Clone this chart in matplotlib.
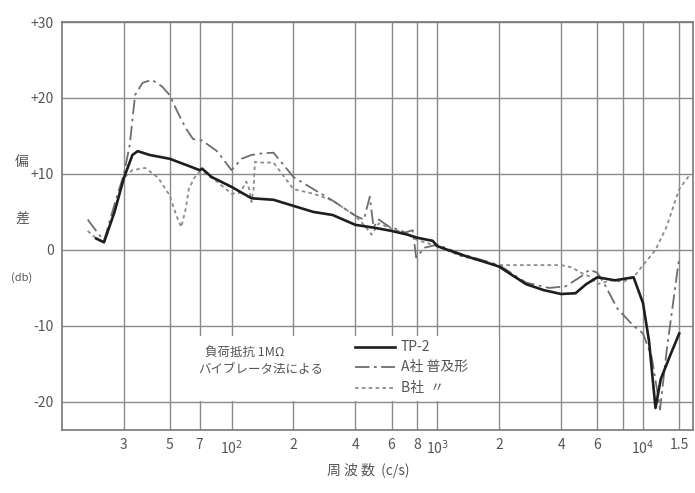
import matplotlib
matplotlib.use("Agg")
import matplotlib.pyplot as plt
from matplotlib.patches import Rectangle
from matplotlib.lines import Line2D

plt.rcParams['font.family'] = ['Noto Sans CJK JP', 'DejaVu Sans']

# TP-2 (solid)
tp2_f = [22, 24, 27, 30, 33, 35, 40, 50, 60, 70, 72, 80, 100, 125, 160, 200, 250,
         310, 400, 500, 600, 720, 800, 950, 1000, 1300, 1900, 2000, 2700, 3300,
         4000, 4700, 5300, 6000, 7300, 9000, 10000, 10700, 11500, 12200, 13500, 15000]
tp2_v = [1.5, 1.0, 5.0, 9.5, 12.5, 13.0, 12.5, 12.0, 11.2, 10.5, 10.7, 9.6, 8.3, 6.8,
         6.6, 5.8, 5.0, 4.6, 3.3, 2.9, 2.5, 2.0, 1.6, 1.2, 0.5, -0.6, -2.0, -2.2, -4.5,
         -5.3, -5.8, -5.7, -4.5, -3.6, -4.0, -3.6, -7.0, -12.0, -20.8, -17.0, -14.0, -11.0]

# A社 普及形 (dash-dot)
a_f = [20, 22, 24, 27, 30, 32, 34, 37, 41, 46, 50, 55, 60, 65, 72, 85, 100, 112, 125,
       140, 160, 200, 250, 310, 400, 440, 470, 490, 520, 580, 700, 760, 790, 870, 1000,
       1300, 2000, 2700, 3500, 4200, 5000, 5500, 6000, 6500, 7500, 9000, 10000, 11000,
       11800, 12100, 13000, 14000, 15000]
a_v = [4.0, 2.5, 1.2, 6.0, 10.0, 13.8, 20.4, 22.0, 22.4, 21.5, 20.4, 18.0, 16.0, 14.6,
       14.4, 13.0, 10.5, 12.0, 12.5, 12.7, 12.8, 9.6, 8.0, 6.5, 4.5, 4.0, 7.0, 3.0, 4.0,
       3.1, 2.3, 2.6, -1.0, 0.3, 0.7, -0.5, -2.0, -4.3, -5.0, -4.8, -3.5, -2.6, -3.0,
       -4.5, -7.7, -10.0, -11.0, -14.0, -19.0, -21.0, -13.5, -7.0, -1.0]

# B社 (dotted)
b_f = [20, 22, 24, 27, 30, 33, 38, 44, 50, 54, 57, 60, 62, 66, 70, 75, 85, 100, 110,
       118, 122, 125, 128, 130, 140, 160, 200, 250, 310, 400, 450, 480, 520, 600, 700,
       800, 1000, 1300, 2000, 3000, 4000, 4500, 5000, 5500, 6000, 7000, 8000, 9000,
       10000, 11500, 13000, 15000, 17000]
b_v = [2.5, 1.5, 1.0, 5.0, 9.5, 10.5, 10.8, 9.5, 7.2, 4.5, 3.0, 5.5, 8.0, 9.5, 10.3,
       10.0, 9.0, 7.4, 7.5, 9.0, 8.0, 6.3, 8.0, 11.6, 11.5, 11.5, 8.0, 7.4, 6.5, 4.5,
       3.0, 2.0, 3.5, 2.8, 2.2, 1.3, 0.5, -0.8, -2.0, -2.0, -2.0, -2.3, -3.0, -3.5,
       -4.5, -4.0, -4.2, -3.6, -2.0, 0.0, 3.0, 8.0, 10.0]

grid_f = [30, 50, 70, 100, 200, 400, 600, 800, 1000, 2000, 4000, 6000, 8000, 10000, 15000]
xtick_f = [30, 50, 70, 100, 200, 400, 600, 800, 1000, 2000, 4000, 6000, 10000, 15000]
xtick_lab = ['3', '5', '7', '10$^2$', '2', '4', '6', '8', '10$^3$', '2', '4', '6', '10$^4$', '1.5']
ytick_v = [30, 20, 10, 0, -10, -20]
ytick_lab = ['+30', '+20', '+10', '0', '-10', '-20']

W, H = 695, 493
fig = plt.figure(figsize=(W / 100, H / 100), dpi=100)
ax = fig.add_axes([62 / W, 1 - 430 / H, 631 / W, 408 / H])
ax.set_xscale('log')
ax.set_xlim(15, 17500)
ax.set_ylim(-23.7, 30)

gc = '#8a8a8a'
for f in grid_f:
    ax.axvline(f, color=gc, lw=1.0, zorder=1)
for v in ytick_v:
    ax.axhline(v, color=gc, lw=1.0, zorder=1)

for s in ax.spines.values():
    s.set_color('#777777')
    s.set_linewidth(1.2)

ax.minorticks_off()
ax.set_xticks(xtick_f)
ax.set_xticklabels(xtick_lab)
ax.set_yticks(ytick_v)
ax.set_yticklabels(ytick_lab)
ax.tick_params(length=0, colors='#555555', labelsize=10, pad=6)

# legend area (grid erased)
ax.add_patch(Rectangle((0.184, 0.072), 0.508, 0.158, transform=ax.transAxes,
                       facecolor='white', edgecolor='none', zorder=2))

ax.plot(tp2_f, tp2_v, color='#1e1e1e', lw=1.9, zorder=5)
ax.plot(a_f, a_v, color='#6e6e6e', lw=1.3, ls=(0, (8, 2.5, 1.5, 2.5)), zorder=4)
ax.plot(b_f, b_v, color='#8c8c8c', lw=1.3, ls=(0, (2, 1.8)), zorder=3)

def fx(px):
    return px / W

def fy(py):
    return 1 - py / H

tc = '#555555'
fig.text(fx(205), fy(352), '負荷抵抗 1MΩ', fontsize=9, color=tc, va='center')
fig.text(fx(198), fy(370), 'バイブレータ法による', fontsize=9, color=tc, va='center')
styles = [('#1e1e1e', 1.9, '-'), ('#6e6e6e', 1.3, (0, (8, 2.5, 1.5, 2.5))),
          ('#8c8c8c', 1.3, (0, (2, 1.8)))]
labels = ['TP-2', 'A社 普及形', 'B社  〃']
for (c, lw, ls), lab, py in zip(styles, labels, [347, 367, 388]):
    fig.add_artist(Line2D([fx(355), fx(395)], [fy(py), fy(py)], color=c, lw=lw, ls=ls))
    fig.text(fx(401), fy(py), lab, fontsize=10, color=tc, va='center')

fig.text(fx(22), fy(162), '偏', fontsize=10, color=tc, ha='center', va='center')
fig.text(fx(22), fy(220), '差', fontsize=10, color=tc, ha='center', va='center')
fig.text(fx(22), fy(278), '(db)', fontsize=8, color=tc, ha='center', va='center')
fig.text(fx(368), fy(470), '周 波 数  (c/s)', fontsize=10, color=tc, ha='center', va='center')

fig.savefig('out.png', dpi=100, facecolor='white')
